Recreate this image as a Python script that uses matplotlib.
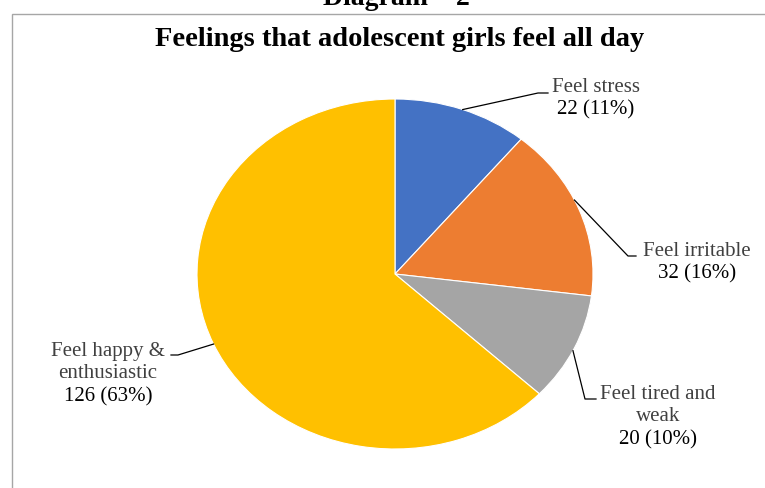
import matplotlib
matplotlib.use("Agg")
import matplotlib.pyplot as plt
from matplotlib.patches import Rectangle
import numpy as np

categories = ["Feel stress", "Feel irritable", "Feel tired and\nweak", "Feel happy &\nenthusiastic"]
counts = [22, 32, 20, 126]
percents = [11, 16, 10, 63]
colors = ["#4472C4", "#ED7D31", "#A5A5A5", "#FFC000"]

W, H = 765, 489
# pie centre and radii in pixels (the picture is stretched sideways)
cx, cy, rx, ry = 395, 275, 198, 175


def to_data(xp, yp):
    return (xp - cx) / rx, (cy - yp) / ry


fig = plt.figure(figsize=(W / 100, H / 100), dpi=100)
ax = fig.add_axes([0, 0, 1, 1])
ax.pie(counts, colors=colors, startangle=90, counterclock=False,
       wedgeprops=dict(edgecolor="white", linewidth=0.8))
ax.set_aspect("auto")
x0, y1 = to_data(0, 0)
x1, y0 = to_data(W, H)
ax.set_xlim(x0, x1)
ax.set_ylim(y0, y1)
ax.axis("off")

# chart frame
fig.patches.append(Rectangle((12 / W, -0.1), 1.2, 1.1 - 15 / H, transform=fig.transFigure,
                             fill=False, edgecolor="#a6a6a6", linewidth=1))

serif = ["Liberation Serif", "DejaVu Serif"]
fig.text(396 / W, 1 - 5 / H, "Diagram – 2", ha="center", va="baseline",
         fontsize=20, fontweight="bold", family=serif)
fig.text(400 / W, 1 - 40 / H, "Feelings that adolescent girls feel all day", ha="center",
         va="center", fontsize=20.5, fontweight="bold", family=serif)

# label layout: text centre (px), anchor angle on the pie, elbow point, line end
label_pos = [(596, 99), (697, 263), (658, 417), (108, 374)]
anchor_deg = [20, 65, 116, 246.4]
elbows = [(538, 94), (628, 257), (585, 400), (178, 356)]
ends = [(548, 94), (636, 257), (596, 400), (171, 356)]

for i in range(len(counts)):
    name_lines = categories[i].split("\n")
    lines = name_lines + ["%d (%d%%)" % (counts[i], percents[i])]
    n = len(lines)
    tx, ty = label_pos[i]
    step = 22.5
    for k, s in enumerate(lines):
        yy = ty + (k - (n - 1) / 2) * step
        col = "black" if k == n - 1 else "#404040"
        u, v = to_data(tx, yy)
        ax.text(u, v, s, ha="center", va="center", fontsize=15, color=col, family=serif)
    th = np.deg2rad(anchor_deg[i])
    ex, ey = to_data(*elbows[i])
    nx, ny = to_data(*ends[i])
    ax.plot([np.sin(th), ex, nx], [np.cos(th), ey, ny], color="black", lw=0.9)

fig.savefig("out.png", dpi=100)
